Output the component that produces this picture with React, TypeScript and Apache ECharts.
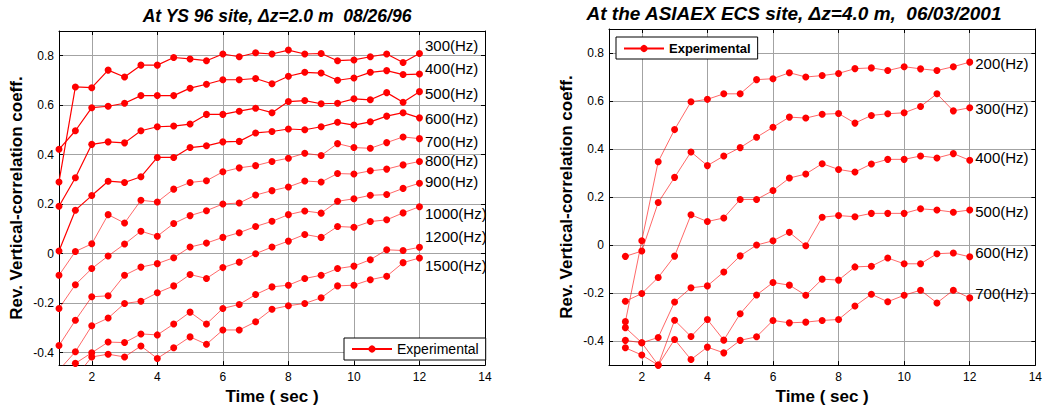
import { useEffect, useRef } from "react";
import * as echarts from "echarts";

// ---------- data ----------
const leftTime = [1, 1.5, 2, 2.5, 3, 3.5, 4, 4.5, 5, 5.5, 6, 6.5, 7, 7.5, 8, 8.5, 9, 9.5, 10, 10.5, 11, 11.5, 12];
const rightTime = [1.5, 2, 2.5, 3, 3.5, 4, 4.5, 5, 5.5, 6, 6.5, 7, 7.5, 8, 8.5, 9, 9.5, 10, 10.5, 11, 11.5, 12];

const leftLabels = ["300(Hz)", "400(Hz)", "500(Hz)", "600(Hz)", "700(Hz)", "800(Hz)", "900(Hz)", "1000(Hz)", "1200(Hz)", "1500(Hz)"];
const rightLabels = ["200(Hz)", "300(Hz)", "400(Hz)", "500(Hz)", "600(Hz)", "700(Hz)"];

const ys300 = [0.29, 0.674, 0.671, 0.742, 0.714, 0.762, 0.762, 0.793, 0.787, 0.78, 0.807, 0.796, 0.812, 0.807, 0.823, 0.807, 0.809, 0.78, 0.783, 0.796, 0.807, 0.773, 0.809];
const ys400 = [0.422, 0.497, 0.59, 0.596, 0.608, 0.639, 0.639, 0.639, 0.669, 0.685, 0.703, 0.703, 0.708, 0.687, 0.717, 0.733, 0.73, 0.701, 0.71, 0.733, 0.74, 0.724, 0.726];
const ys500 = [0.192, 0.307, 0.442, 0.452, 0.448, 0.497, 0.513, 0.516, 0.524, 0.563, 0.563, 0.576, 0.588, 0.57, 0.615, 0.619, 0.606, 0.608, 0.626, 0.622, 0.651, 0.612, 0.655];
const ys600 = [0.011, 0.176, 0.235, 0.293, 0.288, 0.311, 0.389, 0.389, 0.429, 0.436, 0.452, 0.454, 0.488, 0.494, 0.504, 0.501, 0.513, 0.531, 0.52, 0.533, 0.556, 0.57, 0.549];
const ys700 = [-0.087, 0.009, 0.04, 0.158, 0.124, 0.216, 0.209, 0.261, 0.288, 0.295, 0.331, 0.347, 0.356, 0.373, 0.386, 0.406, 0.397, 0.445, 0.429, 0.426, 0.449, 0.472, 0.465];
const ys800 = [-0.221, -0.125, -0.06, -0.009, 0.039, 0.091, 0.071, 0.122, 0.154, 0.174, 0.201, 0.205, 0.237, 0.255, 0.27, 0.294, 0.29, 0.324, 0.322, 0.335, 0.342, 0.359, 0.373];
const ys900 = [-0.371, -0.269, -0.174, -0.17, -0.087, -0.054, -0.04, -0.016, 0.027, 0.043, 0.066, 0.085, 0.11, 0.131, 0.158, 0.173, 0.164, 0.212, 0.222, 0.236, 0.239, 0.264, 0.285];
const ys1000 = [-0.47, -0.396, -0.291, -0.26, -0.201, -0.192, -0.158, -0.13, -0.084, -0.1, -0.056, -0.034, 0.0, 0.027, 0.051, 0.078, 0.066, 0.11, 0.107, 0.13, 0.137, 0.165, 0.19];
const ys1200 = [-0.55, -0.443, -0.4, -0.357, -0.359, -0.324, -0.328, -0.284, -0.236, -0.284, -0.221, -0.205, -0.165, -0.134, -0.127, -0.1, -0.087, -0.06, -0.05, -0.024, 0.016, 0.013, 0.026];
const ys1500 = [-0.6, -0.5, -0.417, -0.406, -0.417, -0.373, -0.423, -0.38, -0.336, -0.366, -0.308, -0.308, -0.275, -0.224, -0.21, -0.201, -0.178, -0.13, -0.127, -0.105, -0.091, -0.036, -0.017];

const ecs200 = [-0.319, 0.018, 0.347, 0.481, 0.597, 0.607, 0.63, 0.63, 0.689, 0.693, 0.718, 0.7, 0.706, 0.715, 0.735, 0.738, 0.727, 0.743, 0.734, 0.727, 0.743, 0.762];
const ecs300 = [-0.047, -0.025, 0.177, 0.282, 0.388, 0.331, 0.371, 0.406, 0.449, 0.491, 0.533, 0.529, 0.545, 0.548, 0.508, 0.54, 0.547, 0.551, 0.577, 0.63, 0.559, 0.572];
const ecs400 = [-0.234, -0.202, -0.135, -0.046, 0.126, 0.098, 0.113, 0.19, 0.19, 0.227, 0.279, 0.296, 0.339, 0.315, 0.304, 0.338, 0.357, 0.357, 0.371, 0.363, 0.381, 0.353];
const ecs500 = [-0.344, -0.407, -0.385, -0.237, -0.178, -0.17, -0.112, -0.045, 0.0, 0.018, 0.053, -0.003, 0.116, 0.123, 0.118, 0.132, 0.132, 0.132, 0.151, 0.146, 0.137, 0.146];
const ecs600 = [-0.397, -0.407, -0.5, -0.313, -0.381, -0.31, -0.396, -0.286, -0.208, -0.156, -0.167, -0.209, -0.142, -0.146, -0.091, -0.088, -0.054, -0.078, -0.078, -0.036, -0.033, -0.049];
const ecs700 = [-0.428, -0.458, -0.5, -0.393, -0.477, -0.425, -0.449, -0.397, -0.382, -0.314, -0.324, -0.321, -0.314, -0.31, -0.254, -0.205, -0.236, -0.209, -0.188, -0.241, -0.188, -0.22];

const leftValues = [ys300, ys400, ys500, ys600, ys700, ys800, ys900, ys1000, ys1200, ys1500];
const rightValues = [ecs200, ecs300, ecs400, ecs500, ecs600, ecs700];

const xTicks = [2, 4, 6, 8, 10, 12, 14];
const yTicks = [-0.4, -0.2, 0, 0.2, 0.4, 0.6, 0.8];

const leftTitle = "At YS 96 site, \u0394z=2.0 m  08/26/96";
const rightTitle = "At the ASIAEX ECS site, \u0394z=4.0 m,  06/03/2001";
const yName = "Rev. Vertical-correlation coeff.";
const xName = "Time ( sec )";
const legendName = "Experimental";

// ---------- styling (not data) ----------
const leftLabelDy = [-8, -6, 2, 1, 3, -1, -2, 7, -11, 8];
const rightLabelDy = [1, 1, -3, 1, -4, -4];
const leftLineWidth = [1.2, 1.2, 1.2, 1.2, 0.8, 0.8, 0.8, 0.8, 0.8, 0.8];
const FONT = "Arial, 'Liberation Sans', sans-serif";
const RED = "#ff0000";
const GRID_LINE = { show: true, lineStyle: { color: "#a3a3a3", type: "solid", width: 1 } };

function buildSeries(xs: number[], ys: number[], label: string, dy: number, width: number, opacity: number, axisIdx: number, name: string) {
  return {
    type: "line",
    name,
    xAxisIndex: axisIdx,
    yAxisIndex: axisIdx,
    symbol: "circle",
    symbolSize: 7,
    clip: true,
    itemStyle: { color: RED },
    lineStyle: { color: RED, width, opacity },
    emphasis: { disabled: true },
    data: xs.map((x, i) =>
      i === xs.length - 1
        ? {
            value: [x, ys[i]],
            label: {
              show: true,
              formatter: label,
              position: "right",
              distance: 2,
              offset: [0, dy],
              fontSize: 15,
              fontFamily: FONT,
              color: "#000",
            },
          }
        : [x, ys[i]]
    ),
  };
}

function axisX(gridIndex: number, top: boolean) {
  return {
    type: "value",
    gridIndex,
    position: top ? "top" : "bottom",
    min: 1,
    max: 14,
    name: top ? "" : xName,
    nameLocation: "middle",
    nameGap: 22,
    nameTextStyle: { fontSize: 17, fontWeight: "bold", fontFamily: FONT, color: "#000" },
    axisLine: { show: true, onZero: false, lineStyle: { color: "#000", width: 1 } },
    axisTick: { show: true, inside: true, length: 4, customValues: xTicks, lineStyle: { color: "#000" } },
    axisLabel: { show: !top, customValues: xTicks, fontSize: 12, fontFamily: FONT, color: "#000", margin: 6 },
    splitLine: top ? { show: false } : GRID_LINE,
  };
}

function axisY(gridIndex: number, right: boolean, min: number) {
  return {
    type: "value",
    gridIndex,
    position: right ? "right" : "left",
    min,
    max: 0.9,
    name: right ? "" : yName,
    nameLocation: "middle",
    nameGap: 34,
    nameTextStyle: { fontSize: 17, fontWeight: "bold", fontFamily: FONT, color: "#000" },
    axisLine: { show: true, onZero: false, lineStyle: { color: "#000", width: 1 } },
    axisTick: { show: true, inside: true, length: 4, customValues: yTicks, lineStyle: { color: "#000" } },
    axisLabel: {
      show: !right,
      customValues: yTicks,
      fontSize: 12,
      fontFamily: FONT,
      color: "#000",
      margin: 5,
      formatter: (v: number) => String(Math.round(v * 10) / 10),
    },
    splitLine: right ? { show: false } : GRID_LINE,
  };
}

export default function App() {
  const ref = useRef<HTMLDivElement>(null);
  useEffect(() => {
    if (!ref.current) return;
    const chart = echarts.init(ref.current, null, { renderer: "svg" });
    const series: any[] = [];
    leftValues.forEach((ys, k) =>
      series.push(buildSeries(leftTime, ys, leftLabels[k], leftLabelDy[k], leftLineWidth[k], k < 4 ? 1 : 0.75, 0, k === 0 ? legendName : "L" + leftLabels[k]))
    );
    rightValues.forEach((ys, k) =>
      series.push(buildSeries(rightTime, ys, rightLabels[k], rightLabelDy[k], 0.8, 0.75, 2, k === 0 ? legendName : "R" + rightLabels[k]))
    );
    chart.setOption({
      animation: false,
      backgroundColor: "#fff",
      grid: [
        { left: 59, top: 31, width: 426, height: 335 },
        { left: 609, top: 29, width: 428, height: 337 },
      ],
      xAxis: [axisX(0, false), axisX(0, true), axisX(1, false), axisX(1, true)],
      yAxis: [axisY(0, false, -0.45), axisY(0, true, -0.45), axisY(1, false, -0.5), axisY(1, true, -0.5)],
      legend: [
        {
          data: [legendName],
          left: 344,
          top: 338,
          orient: "horizontal",
          itemWidth: 40,
          itemHeight: 9,
          itemGap: 0,
          itemTextGap: 7,
          padding: [4, 7, 4, 7],
          borderColor: "#000",
          borderWidth: 1,
          backgroundColor: "#fff",
          selectedMode: false,
          textStyle: { fontSize: 14, fontFamily: FONT, color: "#000" },
        },
        {
          data: [legendName],
          left: 616,
          top: 37,
          orient: "horizontal",
          itemWidth: 40,
          itemHeight: 9,
          itemGap: 0,
          itemTextGap: 10,
          padding: [5, 7, 4, 7],
          borderColor: "#000",
          borderWidth: 1,
          backgroundColor: "#fff",
          selectedMode: false,
          textStyle: { fontSize: 13, fontWeight: "bold", fontFamily: FONT, color: "#000" },
        },
      ],
      graphic: [
        {
          type: "text",
          x: 277,
          y: 16,
          style: { text: leftTitle, textAlign: "center", textVerticalAlign: "middle", font: `italic bold 17.5px ${FONT}`, fill: "#000" },
        },
        {
          type: "text",
          x: 794,
          y: 13,
          style: { text: rightTitle, textAlign: "center", textVerticalAlign: "middle", font: `italic bold 19px ${FONT}`, fill: "#000" },
        },
      ],
      series,
    });
    return () => chart.dispose();
  }, []);
  return <div ref={ref} style={{ position: "fixed", left: 0, top: 0, width: 1045, height: 410 }} />;
}
